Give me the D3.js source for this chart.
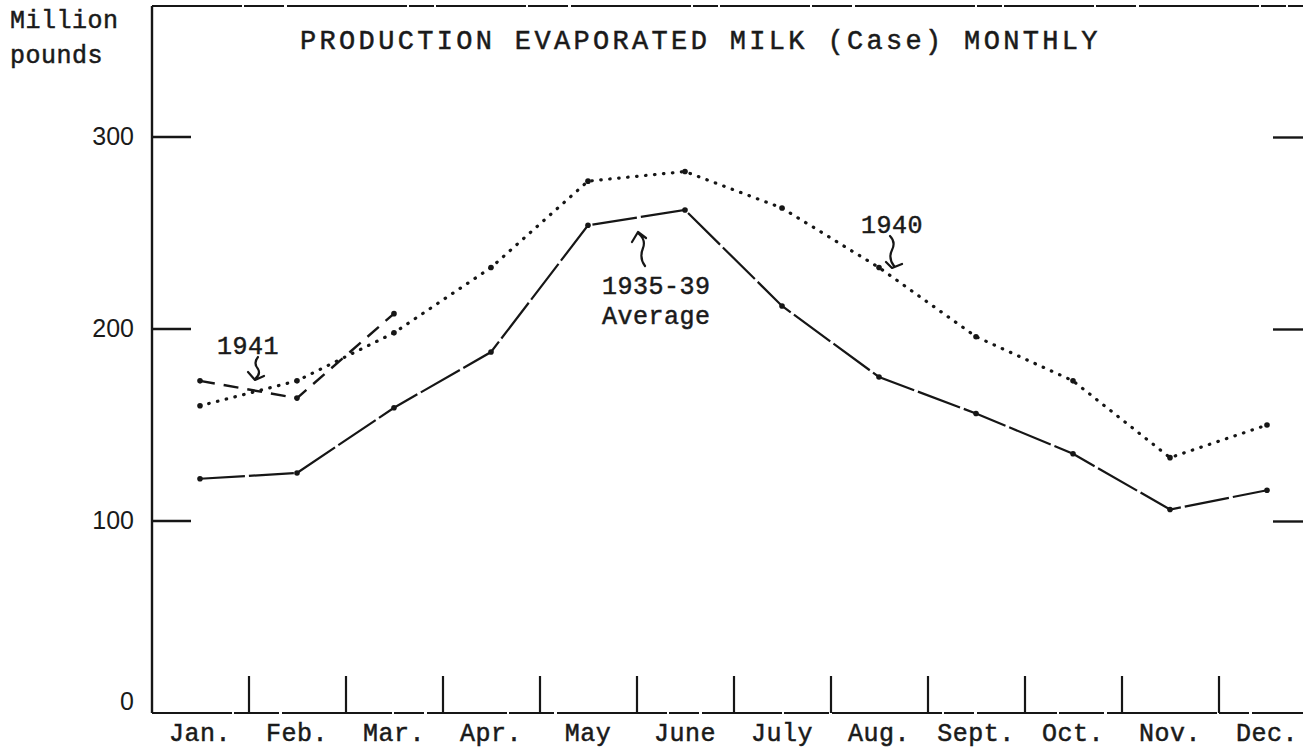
<!DOCTYPE html>
<html>
<head>
<meta charset="utf-8">
<script src="https://cdn.jsdelivr.net/npm/d3@7"></script>
<style>
    body { margin: 0; background: #fff; }
    svg { display: block; }
    .type { font-family: "Liberation Mono", "DejaVu Sans Mono", monospace; font-size: 25px; fill: #1a1a1a; stroke: #1a1a1a; stroke-width: 0.5px; letter-spacing: 0.5px; }
    .ylab text { font-family: "Liberation Sans", Arial, sans-serif; font-size: 25px; fill: #1a1a1a; }
</style>
</head>
<body>
<div id="chart"></div>
<script>
// Données (millions de livres)
const months = ["Jan.", "Feb.", "Mar.", "Apr.", "May", "June", "July", "Aug.", "Sept.", "Oct.", "Nov.", "Dec."];
const avg3539 = [122, 125, 159, 188, 254, 262, 212, 175, 156, 135, 106, 116];
const year1940 = [160, 173, 198, 232, 277, 282, 263, 232, 196, 173, 133, 150];
const year1941 = [173, 164, 208];
const yTicks = [0, 100, 200, 300];

(function() {
    const W = 1303, H = 749;
    const ink = "#161616";

    const svg = d3.select("#chart").append("svg")
        .attr("width", W)
        .attr("height", H);

    // Échelles
    const x = d3.scaleLinear().domain([0, 11]).range([200, 1267]);
    const y = d3.scaleLinear().domain([0, 300]).range([713, 137]);

    // Cadre : axe gauche, haut et bas
    svg.append("line")
        .attr("x1", 152).attr("x2", 152)
        .attr("y1", 6).attr("y2", y(0))
        .attr("stroke", ink).attr("stroke-width", 2.4);

    svg.append("line")
        .attr("x1", 152).attr("x2", W)
        .attr("y1", 6).attr("y2", 6)
        .attr("stroke", ink).attr("stroke-width", 2.2)
        .attr("stroke-dasharray", "90,2,40,3,120,2,25,2");

    svg.append("line")
        .attr("x1", 152).attr("x2", W)
        .attr("y1", y(0)).attr("y2", y(0))
        .attr("stroke", ink).attr("stroke-width", 2.2)
        .attr("stroke-dasharray", "80,2,45,3,110,2,30,3");

    // Axe gauche (étiquettes seulement)
    const yAxis = svg.append("g")
        .attr("class", "ylab")
        .attr("transform", "translate(152,0)")
        .call(d3.axisLeft(y).tickValues(yTicks).tickSize(0).tickPadding(18));
    yAxis.select(".domain").remove();
    yAxis.selectAll("text").attr("dy", d => d === 0 ? "-0.16em" : "0.3em");

    // Graduations vers l'intérieur
    svg.append("g")
        .selectAll("line")
        .data(yTicks.filter(d => d > 0))
        .enter().append("line")
        .attr("x1", 152).attr("x2", 191)
        .attr("y1", d => y(d)).attr("y2", d => y(d))
        .attr("stroke", ink).attr("stroke-width", 2.4);

    // Graduations à droite
    const yRight = svg.append("g")
        .attr("transform", `translate(${W},0)`)
        .call(d3.axisRight(y).tickValues(yTicks.filter(d => d > 0)).tickSize(-30).tickFormat(""));
    yRight.select(".domain").remove();
    yRight.selectAll("line").attr("stroke", ink).attr("stroke-width", 2.4);

    // Graduations entre les mois
    const bounds = d3.range(0.5, 11, 1);
    const xTicks = svg.append("g")
        .attr("transform", `translate(0,${y(0)})`)
        .call(d3.axisBottom(x).tickValues(bounds).tickSize(-37).tickFormat(""));
    xTicks.select(".domain").remove();
    xTicks.selectAll("line").attr("stroke", ink).attr("stroke-width", 2.2);

    // Étiquettes des mois
    svg.append("g")
        .selectAll("text")
        .data(months)
        .enter().append("text")
        .attr("class", "type")
        .attr("x", (d, i) => x(i))
        .attr("y", 741)
        .attr("text-anchor", "middle")
        .text(d => d);

    // Lignes
    const line = d3.line()
        .x((d, i) => x(i))
        .y(d => y(d));

    function drawSeries(values, dash, width, cap) {
        svg.append("path")
            .datum(values)
            .attr("d", line)
            .attr("fill", "none")
            .attr("stroke", ink)
            .attr("stroke-width", width)
            .attr("stroke-linecap", cap)
            .attr("stroke-dasharray", dash);

        svg.append("g")
            .selectAll("circle")
            .data(values)
            .enter().append("circle")
            .attr("cx", (d, i) => x(i))
            .attr("cy", d => y(d))
            .attr("r", 2.8)
            .attr("fill", ink);
    }

    drawSeries(avg3539, "45,4", 2.2, "butt");
    drawSeries(year1940, "0.5,8.5", 3.2, "round");
    drawSeries(year1941, "15,9", 2.4, "butt");

    // Titres et annotations
    svg.append("text").attr("class", "type")
        .attr("x", 10).attr("y", 28).text("Million");
    svg.append("text").attr("class", "type")
        .attr("x", 10).attr("y", 63).text("pounds");

    svg.append("text").attr("class", "type")
        .attr("x", 300).attr("y", 49)
        .style("font-size", "27px")
        .attr("textLength", 798)
        .attr("lengthAdjust", "spacing")
        .text("PRODUCTION EVAPORATED MILK (Case) MONTHLY");

    svg.append("text").attr("class", "type")
        .attr("x", 217).attr("y", 354).text("1941");
    svg.append("text").attr("class", "type")
        .attr("x", 861).attr("y", 233).text("1940");
    svg.append("text").attr("class", "type")
        .attr("x", 602).attr("y", 294).text("1935-39");
    svg.append("text").attr("class", "type")
        .attr("x", 602).attr("y", 324).text("Average");

    // Petites flèches dessinées à la main
    const arrows = [
        "M258,357 q-5,6 0,12 q3,5 -3,10 M248,372 l7,8 l9,-4",
        "M890,236 q6,6 2,14 q-4,8 2,16 M886,262 l6,6 l10,-4",
        "M645,266 q-6,-8 -2,-18 q3,-8 -4,-14 M632,242 l6,-10 l8,6"
    ];
    svg.append("g")
        .selectAll("path")
        .data(arrows)
        .enter().append("path")
        .attr("d", d => d)
        .attr("fill", "none")
        .attr("stroke", ink)
        .attr("stroke-width", 2.2)
        .attr("stroke-linecap", "round")
        .attr("stroke-linejoin", "round");
})();
</script>
</body>
</html>
